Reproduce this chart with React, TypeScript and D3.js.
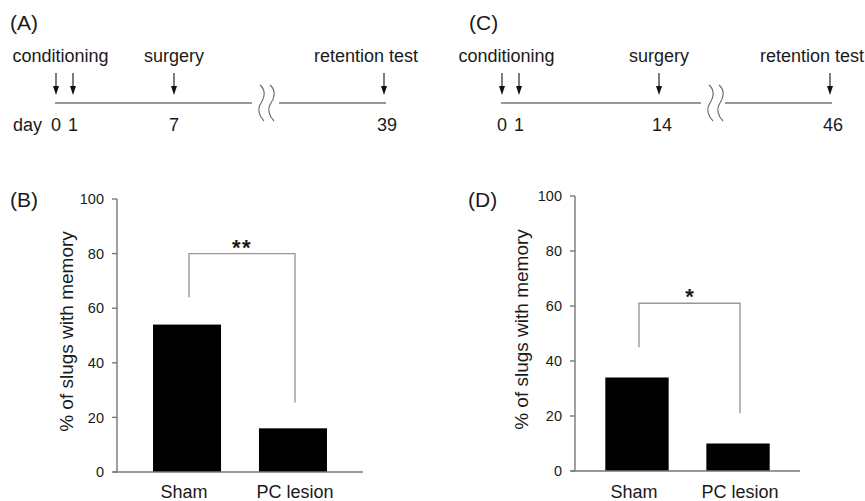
import React from 'react';
import * as d3 from 'd3';

// ---- data ----
const groups = ['Sham', 'PC lesion'];
const memoryB = [54, 16]; // % of slugs with memory, panel B
const memoryD = [34, 10]; // panel D
const yTicks = [0, 20, 40, 60, 80, 100];

// significance brackets: [top, left leg end, right leg end] in % units
const bracketB = [80, 64, 25.5];
const bracketD = [61, 45, 21];
const starsB = '**';
const starsD = '*';

// timelines: days of conditioning, surgery, retention test
const daysA = [0, 1, 7, 39];
const daysC = [0, 1, 14, 46];
const eventLabels = ['conditioning', 'surgery', 'retention test'];

const FONT = '"Liberation Sans", Arial, Helvetica, sans-serif';
const TXT = '#1a1a1a';

type TimelineProps = {
  days: number[];
  pos: number[];
  lineStart: number;
  breakStart: number;
  breakEnd: number;
  lineEnd: number;
  showDay: boolean;
  panel: string;
  panelX: number;
};

const Timeline = ({ days, pos, lineStart, breakStart, breakEnd, lineEnd, showDay, panel, panelX }: TimelineProps) => {
  const x = d3.scaleLinear().domain(days).range(pos);
  const lineY = 103;
  // wavy break mark
  const squiggle = (x0: number) =>
    `M${x0},85 C${x0 + 7},91 ${x0 + 4},98 ${x0 + 1},103 C${x0 - 3},109 ${x0 - 1},116 ${x0 + 4},121`;
  return (
    <g fontFamily={FONT} fill={TXT}>
      <text x={panelX} y={30} fontSize={21}>{panel}</text>
      {/* event labels */}
      <text x={(x(days[0]) + x(days[1])) / 2 - 4} y={62} fontSize={18} textAnchor="middle">{eventLabels[0]}</text>
      <text x={x(days[2])} y={62} fontSize={18} textAnchor="middle">{eventLabels[1]}</text>
      <text x={x(days[3]) + 34} y={62} fontSize={18} textAnchor="end">{eventLabels[2]}</text>
      {/* arrows */}
      {days.map((d, i) => (
        <g key={i}>
          <line x1={x(d)} x2={x(d)} y1={73} y2={87} stroke="#111" strokeWidth={1.1} />
          <path d={`M${x(d) - 3},86 L${x(d) + 3},86 L${x(d)},95 Z`} fill="#111" />
        </g>
      ))}
      {/* axis line with break */}
      <line x1={lineStart} x2={breakStart} y1={lineY} y2={lineY} stroke="#333" strokeWidth={1.2} />
      <line x1={breakEnd} x2={lineEnd} y1={lineY} y2={lineY} stroke="#333" strokeWidth={1.2} />
      <path d={squiggle(breakStart + 8)} fill="none" stroke="#666" strokeWidth={1.1} />
      <path d={squiggle(breakStart + 18)} fill="none" stroke="#666" strokeWidth={1.1} />
      {/* day labels */}
      {showDay && <text x={13} y={131} fontSize={18}>day</text>}
      {days.map((d, i) => (
        <text key={i} x={x(d) + (d >= 10 ? 3 : 0)} y={131} fontSize={18} textAnchor="middle">{d}</text>
      ))}
    </g>
  );
};

type BarProps = {
  values: number[];
  bracket: number[];
  stars: string;
  axisX: number;
  rangeEnd: number;
  yTop: number;
  yBottom: number;
  paddingInner: number;
  paddingOuter: number;
  panel: string;
  panelX: number;
  labelX: number;
};

const BarPanel = ({ values, bracket, stars, axisX, rangeEnd, yTop, yBottom, paddingInner, paddingOuter, panel, panelX, labelX }: BarProps) => {
  const y = d3.scaleLinear().domain([0, 100]).range([yBottom, yTop]);
  const x = d3.scaleBand<string>().domain(groups).range([axisX, rangeEnd])
    .paddingInner(paddingInner).paddingOuter(paddingOuter);
  const mid = (g: string) => (x(g) as number) + x.bandwidth() / 2;
  const cx = (g: string) => mid(g) + 2;
  const [top, leftEnd, rightEnd] = bracket;
  return (
    <g fontFamily={FONT} fill={TXT}>
      <text x={panelX} y={207} fontSize={21}>{panel}</text>
      {/* bars */}
      {groups.map((g, i) => (
        <rect key={g} x={x(g)} y={y(values[i])} width={x.bandwidth()} height={y(0) - y(values[i])} fill="#000" />
      ))}
      {/* axes */}
      <line x1={axisX} x2={axisX} y1={y(100)} y2={y(0)} stroke="#777" strokeWidth={1.4} />
      <line x1={axisX - 4} x2={rangeEnd} y1={y(0)} y2={y(0)} stroke="#777" strokeWidth={1.4} />
      {yTicks.map((t) => (
        <g key={t}>
          <line x1={axisX - 5} x2={axisX} y1={y(t)} y2={y(t)} stroke="#777" strokeWidth={1.4} />
          <text x={axisX - 13} y={y(t)} dy="0.36em" fontSize={14.5} textAnchor="end">{t}</text>
        </g>
      ))}
      <text transform={`translate(${labelX},${(y(0) + y(100)) / 2 - 4}) rotate(-90)`} fontSize={19} textAnchor="middle">
        % of slugs with memory
      </text>
      {groups.map((g, i) => (
        <text key={g} x={mid(g) + (i === 0 ? -3 : 2)} y={498} fontSize={18} textAnchor="middle">{g}</text>
      ))}
      {/* significance bracket */}
      <path
        d={`M${cx(groups[0])},${y(leftEnd)} L${cx(groups[0])},${y(top)} L${cx(groups[1])},${y(top)} L${cx(groups[1])},${y(rightEnd)}`}
        fill="none" stroke="#999" strokeWidth={1.4}
      />
      <text x={(cx(groups[0]) + cx(groups[1])) / 2} y={y(top) + 1} fontSize={22} fontWeight="bold"
        letterSpacing={stars.length > 1 ? 1.5 : 0} textAnchor="middle">{stars}</text>
    </g>
  );
};

export default function App() {
  return (
    <svg width={865} height={501} style={{ position: 'absolute', left: 0, top: 0, background: '#fff' }}>
      <Timeline days={daysA} pos={[56, 73, 174, 384]} lineStart={55} breakStart={252} breakEnd={279} lineEnd={386}
        showDay={true} panel="(A)" panelX={10} />
      <Timeline days={daysC} pos={[502, 519, 659, 830]} lineStart={501} breakStart={701} breakEnd={725} lineEnd={832}
        showDay={false} panel="(C)" panelX={469} />
      <BarPanel values={memoryB} bracket={bracketB} stars={starsB} axisX={117} rangeEnd={363} yTop={199} yBottom={472}
        paddingInner={0.358} paddingOuter={0.34} panel="(B)" panelX={10} labelX={73} />
      <BarPanel values={memoryD} bracket={bracketD} stars={starsD} axisX={575} rangeEnd={800} yTop={196} yBottom={471}
        paddingInner={0.373} paddingOuter={0.3} panel="(D)" panelX={468} labelX={528} />
    </svg>
  );
}
